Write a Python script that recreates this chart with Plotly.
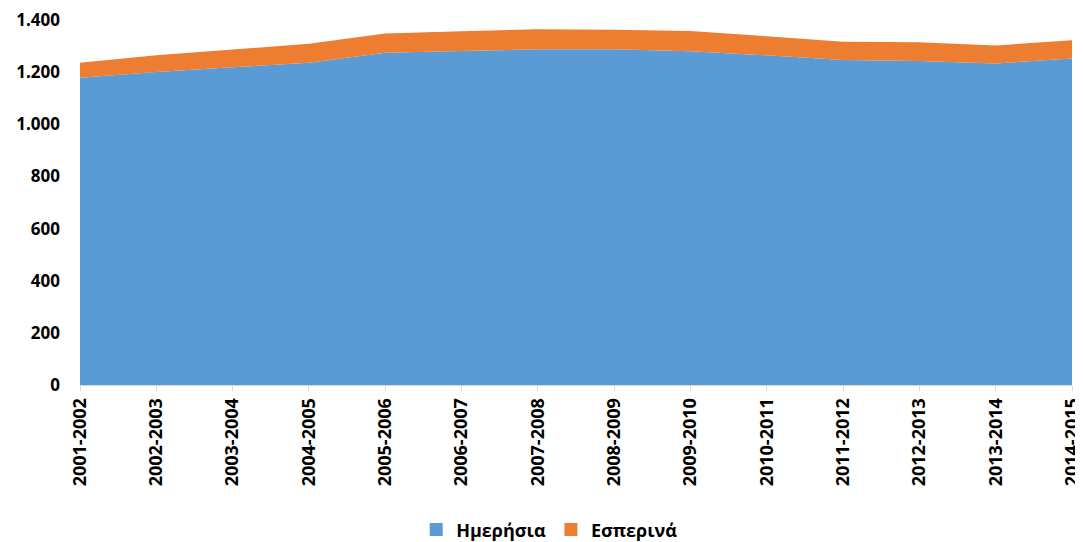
import plotly.graph_objects as go

years = ["2001-2002", "2002-2003", "2003-2004", "2004-2005", "2005-2006", "2006-2007",
         "2007-2008", "2008-2009", "2009-2010", "2010-2011", "2011-2012", "2012-2013",
         "2013-2014", "2014-2015"]
day = [1179, 1201, 1219, 1236, 1275, 1282, 1288, 1288, 1281, 1265, 1247, 1243, 1234, 1253]
evening = [57, 64, 68, 73, 74, 75, 77, 75, 77, 73, 70, 72, 69, 70]
yticks = [0, 200, 400, 600, 800, 1000, 1200, 1400]
names = ["Ημερήσια", "Εσπερινά"]
colors = ["#5B9BD5", "#ED7D31"]

font_family = "Open Sans, Liberation Sans, Arial, sans-serif"

fig = go.Figure()
for name, vals, col in zip(names, [day, evening], colors):
    fig.add_trace(go.Scatter(x=years, y=vals, name=name, stackgroup="one",
                             mode="none", fillcolor=col, showlegend=False))
# legend entries with square swatches
for name, col in zip(names, colors):
    fig.add_trace(go.Scatter(x=[years[0]], y=[None], name=name, mode="markers",
                             marker=dict(symbol="square", size=13, color=col),
                             showlegend=True, hoverinfo="skip"))

# page body has an 8px margin, so the figure is sized to fit the 1083x542 window
fig.update_layout(
    width=1075, height=534,
    margin=dict(l=72, r=11, t=12, b=157, autoexpand=False),
    paper_bgcolor="white", plot_bgcolor="white",
    separators=",.",
    font=dict(family=font_family, size=16, color="#000000"),
    showlegend=True,
    legend=dict(orientation="h", x=0.473, xanchor="center", y=-0.397, yanchor="middle",
                font=dict(family=font_family, size=18, color="#000000", weight="bold"),
                traceorder="normal", itemwidth=30, tracegroupgap=0),
    xaxis=dict(type="category", range=[0, len(years) - 1], tickangle=-90,
               automargin=False,
               showgrid=False, showline=True, linecolor="#D9D9D9", linewidth=1,
               ticks="outside", ticklen=5, tickcolor="#D9D9D9",
               tickfont=dict(family=font_family, size=18, color="#000000", weight="bold")),
    yaxis=dict(range=[0, 1400.5], tickvals=yticks, tickformat=",d", automargin=False,
               autorange=False,
               showgrid=True, gridcolor="#D9D9D9", gridwidth=1, zeroline=False,
               showline=False, ticks="", ticklabelstandoff=19,
               tickfont=dict(family=font_family, size=17, color="#000000", weight="bold")),
)

fig.write_html("out.html")
